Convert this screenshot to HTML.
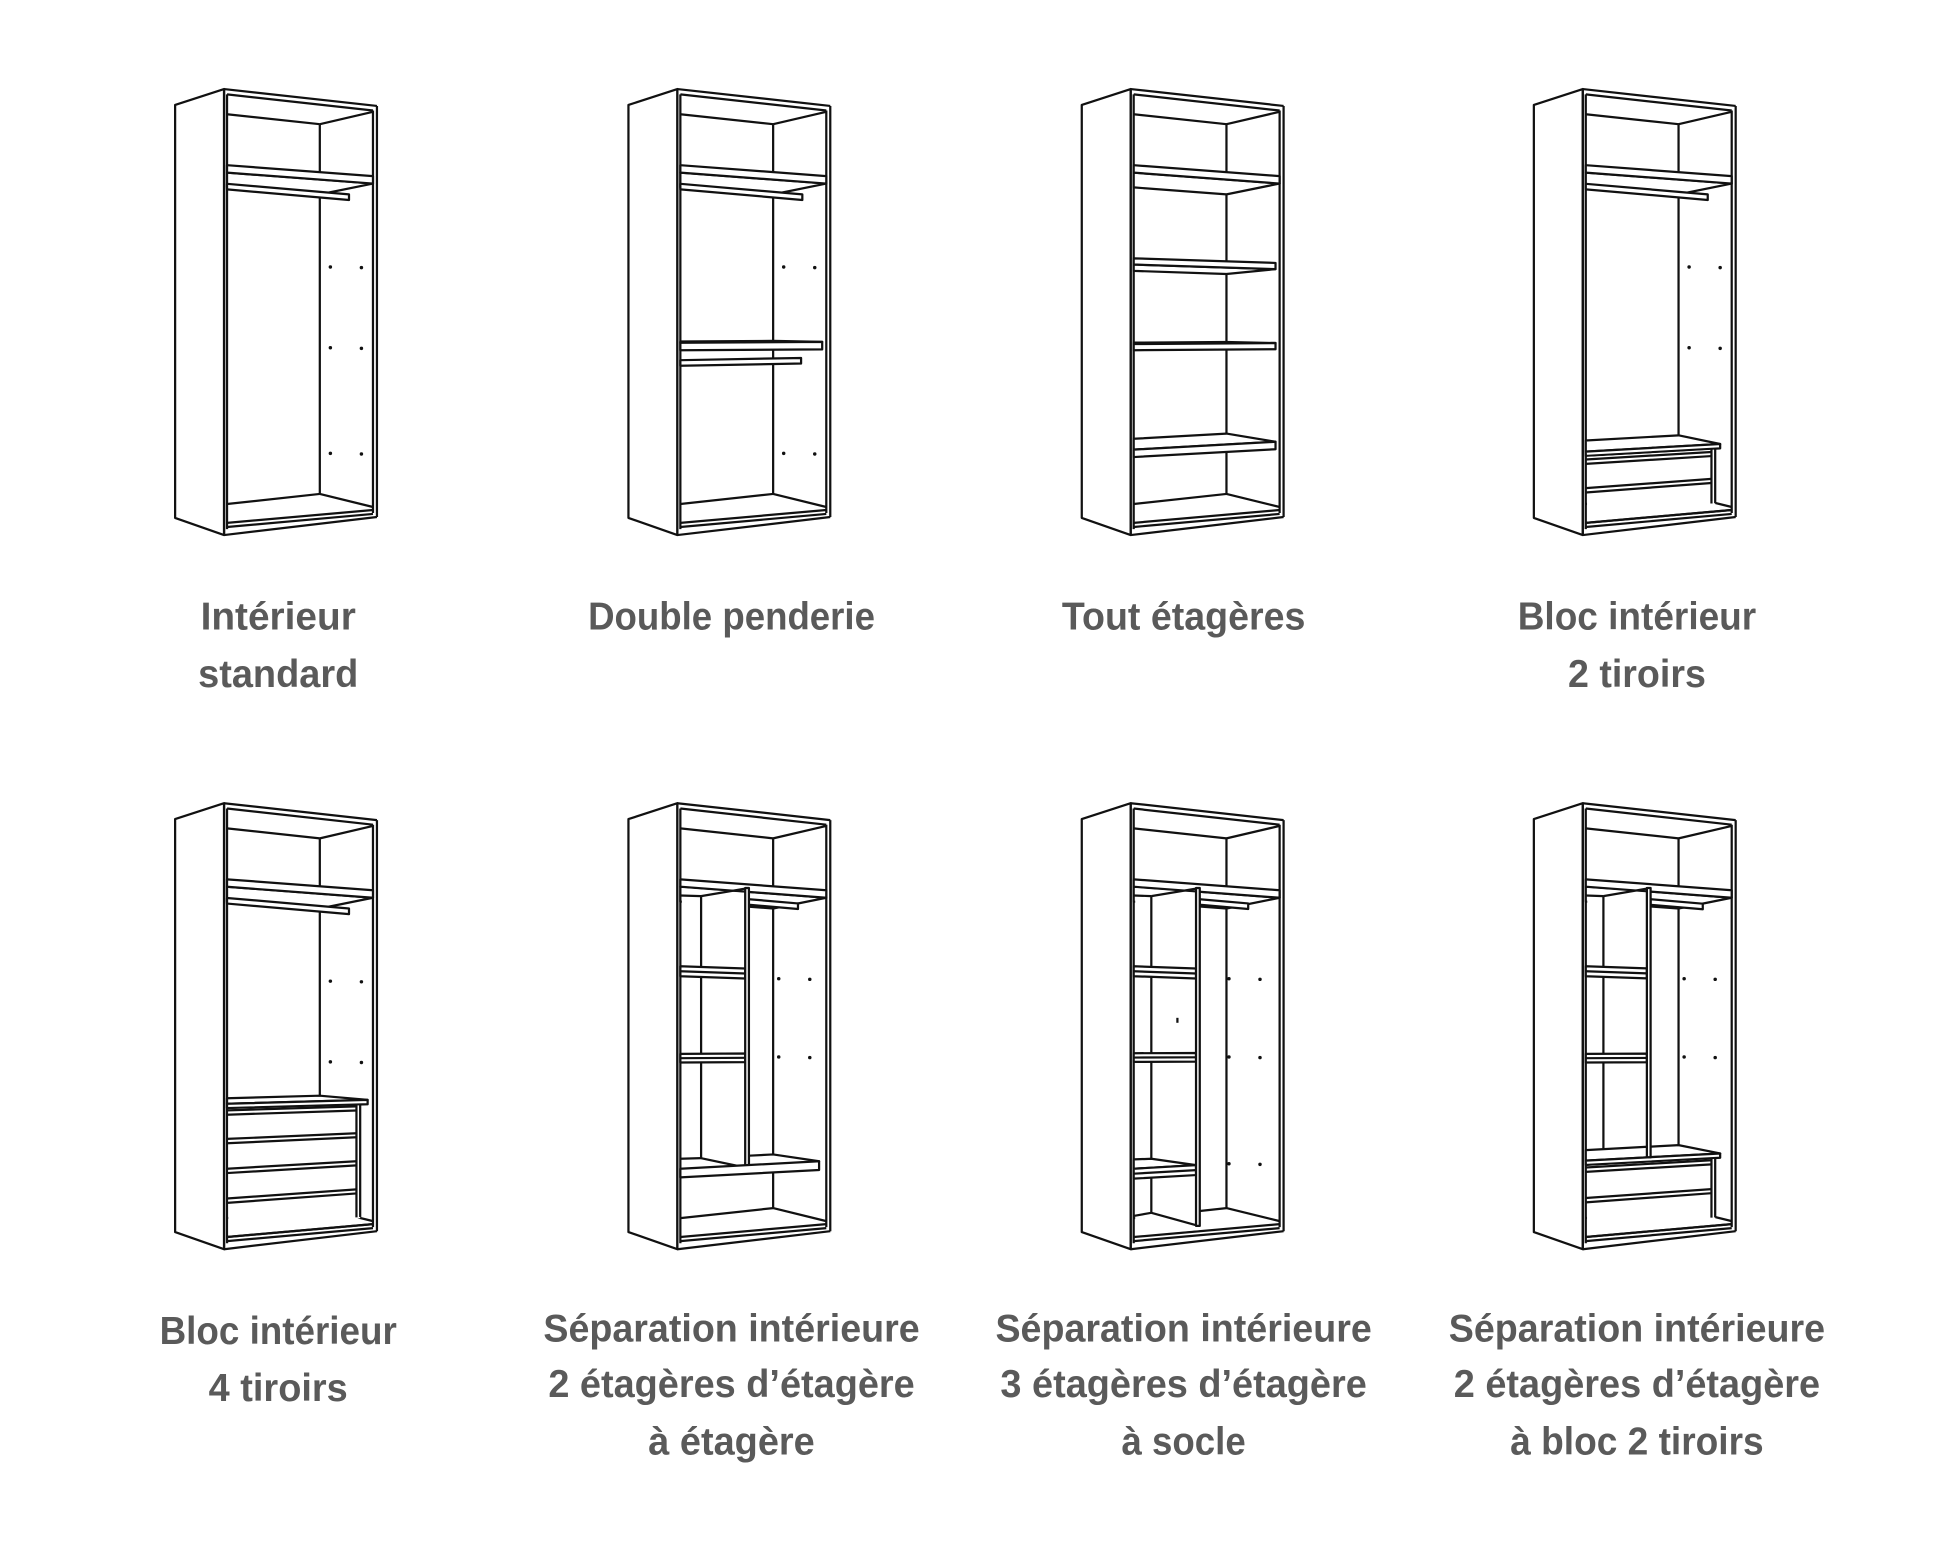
<!DOCTYPE html>
<html><head><meta charset="utf-8">
<style>
html,body{margin:0;padding:0;background:#fff;}
svg{display:block;}
text{font-family:"Liberation Sans Narrow","Liberation Sans",sans-serif;font-weight:bold;fill:#5a5a5a;font-size:31px;}
</style></head>
<body>
<svg id="s" width="1938" height="1553" viewBox="0 0 1560.4 1250.4" preserveAspectRatio="none" xmlns="http://www.w3.org/2000/svg">
<g id="d" stroke="#111" stroke-width="1.8" fill="none" stroke-linejoin="round"></g>
<g text-anchor="middle">
<text x="224" y="507" textLength="125" lengthAdjust="spacingAndGlyphs">Intérieur</text>
<text x="224" y="553" textLength="129" lengthAdjust="spacingAndGlyphs">standard</text>
<text x="589" y="507" textLength="231" lengthAdjust="spacingAndGlyphs">Double penderie</text>
<text x="953" y="507" textLength="196" lengthAdjust="spacingAndGlyphs">Tout étagères</text>
<text x="1318" y="507" textLength="192" lengthAdjust="spacingAndGlyphs">Bloc intérieur</text>
<text x="1318" y="553" textLength="111" lengthAdjust="spacingAndGlyphs">2 tiroirs</text>
<text x="224" y="1082" textLength="191" lengthAdjust="spacingAndGlyphs">Bloc intérieur</text>
<text x="224" y="1128" textLength="112" lengthAdjust="spacingAndGlyphs">4 tiroirs</text>
<text x="589" y="1080" textLength="303" lengthAdjust="spacingAndGlyphs">Séparation intérieure</text>
<text x="589" y="1125" textLength="295" lengthAdjust="spacingAndGlyphs">2 étagères d’étagère</text>
<text x="589" y="1171" textLength="134" lengthAdjust="spacingAndGlyphs">à étagère</text>
<text x="953" y="1080" textLength="303" lengthAdjust="spacingAndGlyphs">Séparation intérieure</text>
<text x="953" y="1125" textLength="295" lengthAdjust="spacingAndGlyphs">3 étagères d’étagère</text>
<text x="953" y="1171" textLength="100" lengthAdjust="spacingAndGlyphs">à socle</text>
<text x="1318" y="1080" textLength="303" lengthAdjust="spacingAndGlyphs">Séparation intérieure</text>
<text x="1318" y="1125" textLength="295" lengthAdjust="spacingAndGlyphs">2 étagères d’étagère</text>
<text x="1318" y="1171" textLength="204" lengthAdjust="spacingAndGlyphs">à bloc 2 tiroirs</text>
</g>
</svg>
<script>
const X0=182.8,XB=257.5,XR=300.3;
const sl=y=>(265-y)*0.00057, fy=(y,x)=>y+sl(y)*(x-X0), bo=y=>(265-y)*0.09;
let out=[];
const f=n=>(+n).toFixed(1);
function L(a,b,c,d){out.push(`<line x1="${f(a)}" y1="${f(b)}" x2="${f(c)}" y2="${f(d)}"/>`);}
function P(p,fill,stroke){out.push(`<polygon points="${p.map(q=>f(q[0])+','+f(q[1])).join(' ')}" fill="${fill||'#fff'}"${stroke===false?' stroke="none"':''}/>`);}
function dot(x,y){out.push(`<circle cx="${x}" cy="${y}" r="1.4" fill="#111" stroke="none"/>`);}
function frame(){
  P([[141,84.5],[180.4,71.7],[180.4,430.8],[141,417]]);
  L(180.4,71.7,303.5,85.3);L(182.8,76,300.3,89);
  L(180.4,71.7,180.4,430.8);L(182.8,76,182.8,426);
  L(300.3,89,300.3,413);L(303.5,85.3,303.5,416.3);
  L(182.8,92,XB,100);L(XB,100,300.3,90);
  L(XB,100,XB,398);
  L(182.8,405.8,XB,397.7);L(XB,397.7,300.3,408.2);
  L(182.8,421,300.3,410.6);L(182.8,424.3,300.3,413.8);L(180.4,430.8,303.5,416.3);
}
function shelf(yl,xr,th){
  th=th||6;const yR=fy(yl,xr),bl=yl+bo(yl),bb=bl+sl(yl)*(XB-X0);
  if(yl<265) P([[X0,yl+th],[xr,yR+th],[XB,bb+th],[X0,bl+th]]);
  else P([[X0,yl],[xr,yR],[XB,bb],[X0,bl]]);
  P([[X0,yl],[xr,yR],[xr,yR+th],[X0,yl+th]]);
}
function rail(yl,x1,x2){const s=sl(yl)*1.3;P([[x1,yl],[x2,yl+s*(x2-x1)],[x2,yl+s*(x2-x1)+4.5],[x1,yl+4.5]]);}
function band(yl,x2,th){const s=sl(yl);P([[X0,yl],[x2,yl+s*(x2-X0)],[x2,yl+s*(x2-X0)+th],[X0,yl+th]]);L(X0,yl+th/2,x2,yl+th/2+s*(x2-X0));}
function dots(xs,ys){ys.forEach(y=>{dot(xs[0],y);dot(xs[1],y+0.5);});}
function drawers(py,pr,rx,lines){
  shelf(py,pr,3.5);
  P([[X0+1,py+4.3],[rx+3,fy(py,rx+3)+4.3],[rx+3,fy(415,rx+3)],[X0+1,419.5]],'#fff',false);
  L(rx,fy(py,rx)+3.5,rx,fy(414,rx));L(rx+3,fy(py,rx+3)+3.5,rx+3,fy(414,rx+3));
  lines.forEach(y=>{L(X0,y,rx,fy(y,rx));L(X0,y+3.5,rx,fy(y+3.5,rx));});
  L(X0,421,300.3,410.6);
}
function partTop(xf,xb,ybot,yb2){
  P([[X0+1.2,fy(139,X0)+1],[xf+3,fy(139,xf+3)+1],[xf+3,ybot],[X0+1.2,yb2]],'#fff',false);
  L(X0,146,xb,146.5);L(xb,146.5,xf,140.5);
}
function partFront(xf,y1,y2){P([[xf,y1],[xf+3,y1],[xf+3,y2],[xf,y2]]);}
function W(ox,oy,fn){out=[];frame();fn();document.getElementById('d').insertAdjacentHTML('beforeend',`<g transform="translate(${ox},${oy})">${out.join('')}</g>`);}
const R2=575;
W(0,0,()=>{shelf(133,XR);rail(148,X0,281);dots([266,291],[215,280,365]);});
W(365,0,()=>{shelf(133,XR);rail(148,X0,281);shelf(276,297,6);rail(290,X0,280);dots([266,291],[215,365]);});
W(730,0,()=>{shelf(133,XR);shelf(208,297,5);shelf(277,297,5);shelf(362,297,6);});
W(1094,0,()=>{shelf(133,XR);rail(148,X0,281);dots([266,291],[215,280]);drawers(363.6,291,284,[370,393]);});
W(0,R2,()=>{shelf(133,XR);rail(148,X0,281);dots([266,291],[215,280]);drawers(313.7,296,287,[319,342,366,390]);});
W(365,R2,()=>{const xf=235,xb=199.5;shelf(133,XR);partTop(xf,xb,366,366);L(xb,146.5,xb,358);
  rail(149,xf+3,277.5);dots([262,287],[213,276]);band(203,xf,8);band(273.5,xf,7);
  P([[xf+3,355.5],[XB,354.5],[294.5,360],[xf+3,364]]);
  L(X0,358,xb,357.5);L(xb,357.5,xf,365);
  partFront(xf,140,365);
  P([[X0,366],[294.5,360],[294.5,367],[X0,373]]);});
W(730,R2,()=>{const xf=233,xb=197;shelf(133,XR);partTop(xf,xb,fy(421,xf+3)-1,419.5);
  L(xb,146.5,xb,401.5);L(X0,404,xb,401.5);L(xb,401.5,xf,411.5);
  rail(149,xf+3,275);dots([259.5,284.5],[213,276,362]);band(203,xf,8);band(273,xf,7);
  P([[X0,366],[xf,fy(366,xf)],[xb,358],[X0,358.5]]);band(366,xf,8);
  L(218,244.5,218,248.5);partFront(xf,140,412);});
W(1094,R2,()=>{const xf=232,xb=197;shelf(133,XR);partTop(xf,xb,357,360);L(xb,146.5,xb,351);
  rail(149,xf+3,277);dots([262,287],[213,276]);band(203,xf,8);band(273.5,xf,7);
  drawers(359.5,291,284,[365,389.6]);partFront(xf,140,fy(359.5,xf));});
</script>
</body></html>
